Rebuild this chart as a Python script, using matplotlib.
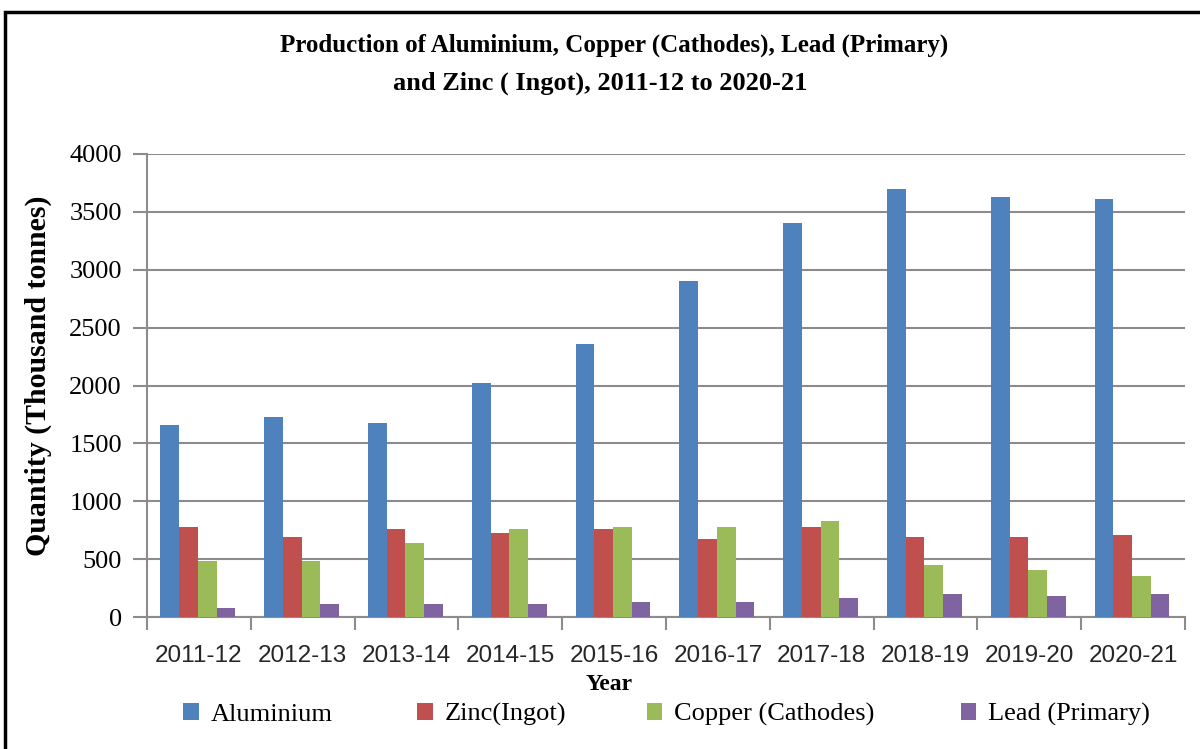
import matplotlib
matplotlib.use("Agg")
import matplotlib.pyplot as plt
import numpy as np
from matplotlib.patches import Rectangle

years = ["2011-12", "2012-13", "2013-14", "2014-15", "2015-16",
         "2016-17", "2017-18", "2018-19", "2019-20", "2020-21"]
aluminium = [1660, 1730, 1680, 2020, 2355, 2900, 3400, 3700, 3630, 3610]
zinc = [780, 693, 762, 727, 762, 675, 780, 693, 693, 710]
copper = [488, 488, 641, 762, 779, 779, 831, 447, 410, 355]
lead = [75, 109, 109, 109, 130, 130, 165, 199, 182, 199]

names = ["Aluminium", "Zinc(Ingot)", "Copper (Cathodes)", "Lead (Primary)"]
colors = ["#4F81BD", "#C0504D", "#9BBB59", "#8064A2"]
series = [aluminium, zinc, copper, lead]

serif = "Liberation Serif"
fig = plt.figure(figsize=(12, 7.49), dpi=100)
ax = fig.add_axes([0.1225, 0.1762, 0.865, 0.6182])

x = np.arange(len(years))
w = 0.18
bars = []
for i, (vals, c) in enumerate(zip(series, colors)):
    b = ax.bar(x + (i - 1.5) * w - 0.01, vals, w, color=c, zorder=3)
    bars.append(b)

ax.set_xlim(-0.5, len(years) - 0.5)
ax.set_ylim(0, 4000)
ax.set_yticks(range(0, 4001, 500))
ax.yaxis.grid(True, color="#8c8c8c", linewidth=1.5, zorder=0)
ax.set_xticks(x)
ax.set_xticklabels(years, family="Liberation Sans", fontsize=17.5, color="#262626")
ax.set_xticks(np.arange(-0.5, len(years), 1), minor=True)
ax.tick_params(axis="x", which="major", length=0, pad=20)
ax.tick_params(axis="x", which="minor", length=9, color="#8c8c8c", width=1.5)
ax.tick_params(axis="y", length=10, color="#8c8c8c", width=1.5, pad=8)
for lab in ax.get_yticklabels():
    lab.set_family(serif)
    lab.set_fontsize(19)
for s in ["top", "right"]:
    ax.spines[s].set_visible(False)
for s in ["left", "bottom"]:
    ax.spines[s].set_color("#8c8c8c")
    ax.spines[s].set_linewidth(1.5)

ax.set_ylabel("Quantity (Thousand tonnes)", family=serif, fontsize=21.5,
              fontweight="bold")
ax.yaxis.set_label_coords(-0.092, 0.52)

fig.text(0.512, 0.94, "Production of Aluminium, Copper (Cathodes), Lead (Primary)",
         family=serif, fontsize=18, fontweight="bold", ha="center", va="center")
fig.text(0.5, 0.889, "and Zinc ( Ingot), 2011-12 to 2020-21",
         family=serif, fontsize=19, fontweight="bold", ha="center", va="center")
fig.text(0.508, 0.0855, "Year", family=serif, fontsize=17, fontweight="bold",
         ha="center", va="center")

# legend entries placed one by one, like the spreadsheet layout
lx = [0.1325, 0.3275, 0.519, 0.7807]
for b, n, xx in zip(bars, names, lx):
    fig.legend([b], [n], loc="center left", bbox_to_anchor=(xx, 0.046),
               frameon=False, prop={"family": serif, "size": 19},
               handlelength=0.6, handleheight=0.6, handletextpad=0.45)

# outer frame
fig.patches.append(Rectangle((0.004, -0.1), 1.2, 0.1 + 1 - 12 / 749,
                             transform=fig.transFigure, fill=False,
                             edgecolor="black", linewidth=2.5))

fig.savefig("out.png", dpi=100)
